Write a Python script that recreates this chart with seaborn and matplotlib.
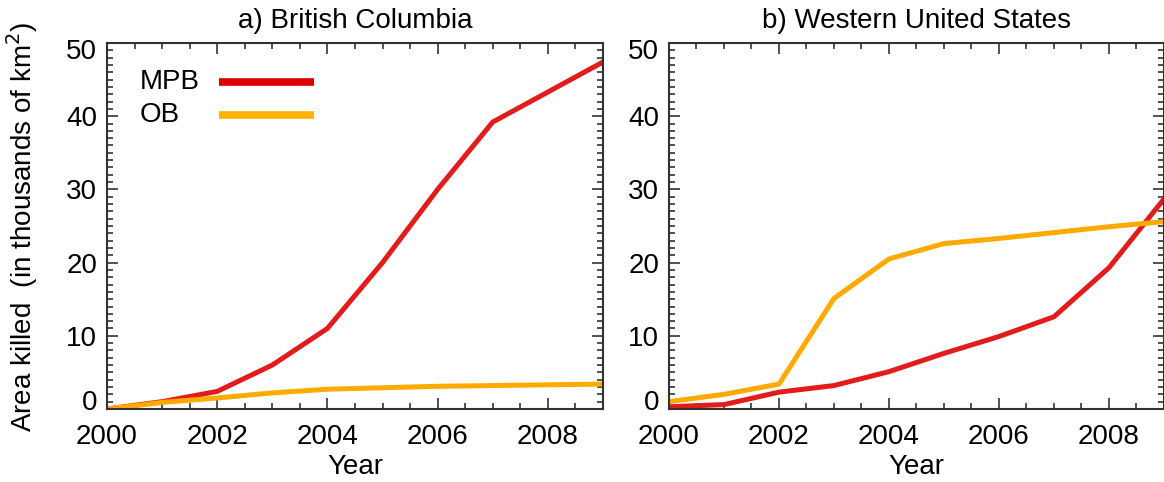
import numpy as np
import pandas as pd
import matplotlib
matplotlib.use("Agg")
import matplotlib.pyplot as plt
import matplotlib.transforms as mtransforms
from matplotlib.ticker import MultipleLocator
import seaborn as sns

# values (thousands of km2)
years = [2000, 2001, 2002, 2003, 2004, 2005, 2006, 2007, 2008, 2009]
bc_mpb = [0.0, 1.0, 2.4, 6.0, 11.0, 20.0, 30.0, 39.2, 43.3, 47.4]
bc_ob = [0.0, 0.9, 1.5, 2.2, 2.7, 2.9, 3.1, 3.2, 3.3, 3.4]
wus_mpb = [0.3, 0.6, 2.3, 3.2, 5.1, 7.6, 9.9, 12.6, 19.3, 28.7]
wus_ob = [1.0, 2.0, 3.4, 15.1, 20.5, 22.6, 23.3, 24.1, 24.9, 25.6]

series = ["MPB", "OB"]
panel_titles = ["a) British Columbia", "b) Western United States"]
line_colors = {"MPB": "#e31b1b", "OB": "#ffaa00"}
legend_colors = ["#dd0000", "#ffb400"]
yticks = [0, 10, 20, 30, 40, 50]

sns.set_style("ticks")
plt.rcParams["font.family"] = ["Liberation Sans", "DejaVu Sans"]
plt.rcParams["text.color"] = "black"
plt.rcParams["axes.labelcolor"] = "black"
plt.rcParams["xtick.color"] = "black"
plt.rcParams["ytick.color"] = "black"
fs = 20

def long_frame(mpb, ob):
    return pd.DataFrame({
        "Year": years * 2,
        "Area": mpb + ob,
        "Beetle": ["MPB"] * len(years) + ["OB"] * len(years),
    })

frames = [long_frame(bc_mpb, bc_ob), long_frame(wus_mpb, wus_ob)]

fig = plt.figure(figsize=(11.64, 4.82), dpi=100)
ax1 = fig.add_axes([0.0919, 0.1515, 0.4261, 0.7593])
ax2 = fig.add_axes([0.5747, 0.1515, 0.4253, 0.7593])

for ax, df, title in zip([ax1, ax2], frames, panel_titles):
    sns.lineplot(data=df, x="Year", y="Area", hue="Beetle", hue_order=series,
                 palette=line_colors, linewidth=3.6, ax=ax, legend=False)
    ax.set_xlim(2000, 2009)
    ax.set_ylim(0, 50)
    ax.set_yticks(yticks)
    ax.xaxis.set_major_locator(MultipleLocator(2))
    ax.xaxis.set_minor_locator(MultipleLocator(0.5))
    ax.yaxis.set_minor_locator(MultipleLocator(1))
    ax.tick_params(which="both", direction="in", top=True, right=True, width=1.2)
    ax.tick_params(which="both", color="#333333")
    ax.tick_params(which="major", length=8)
    ax.tick_params(which="minor", length=4)
    ax.tick_params(axis="x", pad=11, labelsize=fs)
    ax.tick_params(axis="y", pad=7, labelsize=fs)
    for sp in ax.spines.values():
        sp.set_color("#333333")
        sp.set_linewidth(1.5)
    ax.set_title(title, fontsize=fs, pad=11)
    ax.set_xlabel("Year", fontsize=fs, labelpad=3)
    ax.set_ylabel("")
    # keep the end labels inside the frame, like the original
    ticks = ax.yaxis.get_major_ticks()
    lo, hi = ticks[0].label1, ticks[-1].label1
    lo.set_transform(lo.get_transform() +
                     mtransforms.ScaledTranslation(0, 9 / 100, fig.dpi_scale_trans))
    hi.set_transform(hi.get_transform() +
                     mtransforms.ScaledTranslation(0, -6 / 100, fig.dpi_scale_trans))

# legend drawn as text followed by a line sample
leg_y = [0.893, 0.803]
for name, col, yy in zip(series, legend_colors, leg_y):
    ax1.text(0.0665, yy, name, transform=ax1.transAxes, ha="left", va="center",
             fontsize=fs)
    ax1.plot([0.226, 0.417], [yy, yy], transform=ax1.transAxes, color=col,
             linewidth=5.5, solid_capstyle="butt")

fig.text(0.019, 0.53, "Area killed  (in thousands of km$^2$)", rotation=90,
         ha="center", va="center", fontsize=fs)

fig.savefig("out.png", dpi=100)
